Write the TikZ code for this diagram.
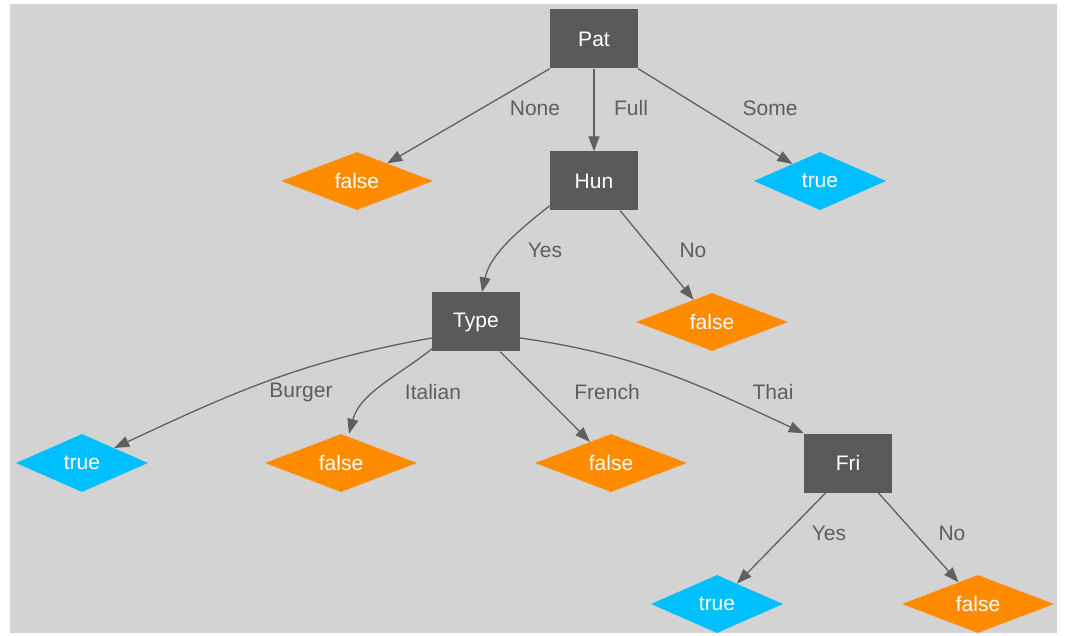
\documentclass[tikz,border=0pt]{standalone}
\usepackage{fontspec}
\setmainfont{Liberation Sans}
\usetikzlibrary{shapes.geometric,arrows.meta}
\definecolor{bgc}{HTML}{D3D3D3}
\definecolor{boxc}{HTML}{5A5A5A}
\definecolor{falsec}{HTML}{FF8C00}
\definecolor{truec}{HTML}{00BFFF}
\definecolor{edgec}{HTML}{606060}
\definecolor{labc}{HTML}{5E5E5E}
\begin{document}
\begin{tikzpicture}[x=1pt,y=-1pt,
  font=\fontsize{21}{24}\selectfont,
  attr/.style={rectangle,fill=boxc,text=white,minimum width=88pt,minimum height=59pt,inner sep=0pt},
  leafbase/.style={diamond,aspect=2.6,inner sep=0pt,text=white,minimum height=58pt},
  leaffalse/.style={leafbase,fill=falsec,minimum width=152pt},
  leaftrue/.style={leafbase,fill=truec,minimum width=132pt},
  conn/.style={draw=edgec,line width=1.3pt,-{Triangle[length=15pt,width=11pt]}},
  lab/.style={text=labc,inner sep=0pt}]
\useasboundingbox (0,0) rectangle (1066,636);
\fill[white] (0,0) rectangle (1066,636);
\fill[bgc] (10,4) rectangle (1057,633);

% nodes
\node[attr] (pat) at (594,39) {Pat};
\node[attr] (hun) at (594,181) {Hun};
\node[attr] (type) at (476,322) {Type};
\node[attr] (fri) at (848,463) {Fri};
\node[leaffalse] (f1) at (357,181) {false};
\node[leaftrue] (t1) at (820,181) {true};
\node[leaffalse] (f2) at (712,322) {false};
\node[leaftrue] (t2) at (82,463) {true};
\node[leaffalse] (f3) at (341,463) {false};
\node[leaffalse] (f4) at (611,463) {false};
\node[leaftrue] (t3) at (717,604) {true};
\node[leaffalse] (f5) at (978,604) {false};

% connectors
\draw[conn] (pat.south west) -- (f1);
\draw[conn] (pat) -- (hun);
\draw[conn] (pat.south east) -- (t1);
\draw[conn] ([yshift=5pt]hun.south west) to[out=-142,in=78,looseness=0.9] ([xshift=6pt]type.north);
\draw[conn] ([xshift=-18pt]hun.south east) -- (f2);
\draw[conn] ([yshift=-16pt]type.west) to[out=190,in=25] (t2);
\draw[conn] ([xshift=4pt,yshift=6pt]type.south west) to[out=-140,in=75,looseness=0.9] ([xshift=8pt]f3.north);
\draw[conn] ([xshift=-20pt]type.south east) -- (f4);
\draw[conn] ([yshift=-16pt]type.east) to[out=-8,in=155] (fri.north west);
\draw[conn] ([xshift=22pt]fri.south west) -- (t3);
\draw[conn] ([xshift=-14pt]fri.south east) -- (f5);

% edge labels
\node[lab] (lnone) at (535,108) {None};
\node[lab] (lfull) at (631,108) {Full};
\node[lab] (lsome) at (770,108) {Some};
\node[lab] (lyes1) at (545,250) {Yes};
\node[lab] (lno1) at (693,250) {No};
\node[lab] (lburger) at (301,392) {Burger};
\node[lab] (litalian) at (433,392) {Italian};
\node[lab] (lfrench) at (607,392) {French};
\node[lab] (lthai) at (773,392) {Thai};
\node[lab] (lyes2) at (829,533) {Yes};
\node[lab] (lno2) at (952,533) {No};
\end{tikzpicture}
\end{document}
